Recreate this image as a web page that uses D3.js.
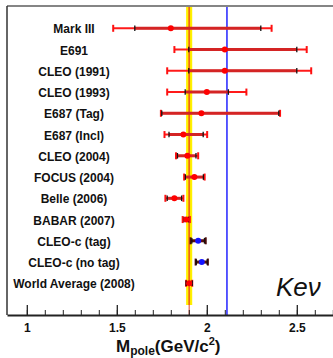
<!DOCTYPE html>
<html>
<head>
<meta charset="utf-8">
<script src="https://cdn.jsdelivr.net/npm/d3@7"></script>
<style>
body { margin: 0; background: #fff; }
svg { display: block; }
</style>
</head>
<body>
<script>
"use strict";

/* Values (GeV) */
var experiments = ["Mark III", "E691", "CLEO (1991)", "CLEO (1993)", "E687 (Tag)", "E687 (Incl)",
	"CLEO (2004)", "FOCUS (2004)", "Belle (2006)", "BABAR (2007)", "CLEO-c (tag)",
	"CLEO-c (no tag)", "World Average (2008)"];
var mpole    = [1.80, 2.10, 2.10, 2.00, 1.97, 1.87, 1.892, 1.931, 1.82, 1.886, 1.952, 1.972, 1.902];
var statLow  = [0.20, 0.20, 0.20, 0.12, 0.22, 0.08, 0.055, 0.05, 0.04, 0.012, 0.035, 0.03, 0.017];
var statHigh = [0.50, 0.40, 0.40, 0.12, 0.43, 0.11, 0.048, 0.05, 0.04, 0.012, 0.035, 0.03, 0.017];
var totLow   = [0.32, 0.28, 0.32, 0.22, 0.225, 0.105, 0.063, 0.057, 0.05, 0.02, 0.042, 0.034, 0.017];
var totHigh  = [0.56, 0.455, 0.48, 0.22, 0.437, 0.132, 0.06, 0.057, 0.05, 0.02, 0.042, 0.034, 0.017];
var worldAvg = 1.902, worldErr = 0.017;	// yellow band
var dstarMass = 2.112;	// blue line
var majorTicks = [1, 1.5, 2, 2.5];

var font = "'Liberation Sans', Arial, Helvetica, sans-serif";
var blueRows = ["CLEO-c (tag)", "CLEO-c (no tag)"];

var width = 333, height = 358;
var frame = {left: 7, top: 6, bottom: 315, right: 333};

var svg = d3.select("body").append("svg")
	.attr("width", width)
	.attr("height", height);

var x = d3.scaleLinear()
	.domain([0.89, 2.70])
	.range([frame.left, 332.8]);
var y = d3.scalePoint()
	.domain(experiments)
	.range([28.3, 283.3]);

var rows = experiments.map(function(name, i) {
	return {name: name, m: mpole[i], sl: statLow[i], sh: statHigh[i], tl: totLow[i], th: totHigh[i],
		blue: blueRows.indexOf(name) >= 0};
});

// yellow world-average band with its central line
svg.append("rect")
	.attr("x", x(worldAvg - worldErr))
	.attr("y", frame.top)
	.attr("width", x(worldAvg + worldErr) - x(worldAvg - worldErr))
	.attr("height", 305 - frame.top)
	.attr("fill", "#fff200");
svg.append("line")
	.attr("x1", x(worldAvg)).attr("x2", x(worldAvg))
	.attr("y1", frame.top).attr("y2", 305)
	.attr("stroke", "#ffb000").attr("stroke-width", 2);
svg.append("line")
	.attr("x1", x(worldAvg)).attr("x2", x(worldAvg))
	.attr("y1", frame.top).attr("y2", frame.bottom)
	.attr("stroke", "#e0402a").attr("stroke-width", 1);

// D*s mass line
svg.append("line")
	.attr("x1", x(dstarMass)).attr("x2", x(dstarMass))
	.attr("y1", frame.top).attr("y2", frame.bottom)
	.attr("stroke", "#0000ff").attr("stroke-width", 1.3);

// frame
svg.append("line")
	.attr("x1", frame.left).attr("x2", frame.right)
	.attr("y1", frame.top).attr("y2", frame.top)
	.attr("stroke", "#858585").attr("stroke-width", 2);
svg.append("line")
	.attr("x1", frame.left).attr("x2", frame.left)
	.attr("y1", frame.top).attr("y2", frame.bottom)
	.attr("stroke", "#333").attr("stroke-width", 1.5);

// error bars
var bar = svg.append("g").selectAll("g")
	.data(rows)
	.enter().append("g");
// total error, thin
bar.append("line")
	.attr("x1", function(d) { return x(d.m - d.tl); })
	.attr("x2", function(d) { return x(d.m + d.th); })
	.attr("y1", function(d) { return y(d.name); })
	.attr("y2", function(d) { return y(d.name); })
	.attr("stroke", function(d) { return d.blue ? "#5a0c0c" : "#ff1a1a"; })
	.attr("stroke-width", 2);
// stat error, thick
bar.append("line")
	.attr("x1", function(d) { return x(d.m - d.sl); })
	.attr("x2", function(d) { return x(d.m + d.sh); })
	.attr("y1", function(d) { return y(d.name); })
	.attr("y2", function(d) { return y(d.name); })
	.attr("stroke", function(d) { return d.blue ? "#5a0c0c" : "#d42424"; })
	.attr("stroke-width", 3);
// red end caps of the total error
bar.selectAll(".cap")
	.data(function(d) { return [d.m - d.tl, d.m + d.th].map(function(v) { return {v: v, d: d}; }); })
	.enter().append("line")
	.attr("class", "cap")
	.attr("x1", function(c) { return x(c.v); })
	.attr("x2", function(c) { return x(c.v); })
	.attr("y1", function(c) { return y(c.d.name) - 3.5; })
	.attr("y2", function(c) { return y(c.d.name) + 3.5; })
	.attr("stroke", function(c) { return c.d.blue ? "#4a0808" : "#ff1010"; })
	.attr("stroke-width", 2);
// black ticks at the end of the stat error
bar.selectAll(".stat")
	.data(function(d) { return [d.m - d.sl, d.m + d.sh].map(function(v) { return {v: v, d: d}; }); })
	.enter().append("line")
	.attr("class", "stat")
	.attr("x1", function(c) { return x(c.v); })
	.attr("x2", function(c) { return x(c.v); })
	.attr("y1", function(c) { return y(c.d.name) - 2.8; })
	.attr("y2", function(c) { return y(c.d.name) + 2.8; })
	.attr("stroke", "#111")
	.attr("stroke-width", 1.3);
// central values
bar.append("circle")
	.attr("cx", function(d) { return x(d.m); })
	.attr("cy", function(d) { return y(d.name); })
	.attr("r", 3)
	.attr("fill", function(d) { return d.blue ? "#1414ff" : "#ff0000"; });

// experiment names
svg.append("g").selectAll("text")
	.data(rows)
	.enter().append("text")
	.attr("x", 74)
	.attr("y", function(d) { return y(d.name) + 5; })
	.attr("text-anchor", "middle")
	.style("font-family", font)
	.style("font-weight", "bold")
	.style("font-size", "12px")
	.attr("fill", "#111")
	.text(function(d) { return d.name; });

// x axis: minor then major ticks, drawn inward
var minor = x.ticks(20).filter(function(v) { return v >= 0.95; });
svg.append("g")
	.attr("transform", "translate(0," + frame.bottom + ")")
	.call(d3.axisBottom(x).tickValues(minor).tickSizeInner(-5).tickSizeOuter(0).tickFormat(""))
	.call(function(g) { g.select(".domain").remove(); })
	.selectAll("line").attr("stroke", "#222").attr("stroke-width", 1);
var xAxis = svg.append("g")
	.attr("transform", "translate(0," + frame.bottom + ")")
	.call(d3.axisBottom(x).tickValues(majorTicks).tickSizeInner(-10).tickSizeOuter(0)
		.tickPadding(8).tickFormat(d3.format("~g")));
xAxis.select(".domain").attr("stroke", "#222").attr("stroke-width", 2);
xAxis.selectAll("line").attr("stroke", "#222").attr("stroke-width", 1.3);
xAxis.selectAll("text")
	.style("font-family", font)
	.style("font-weight", "bold")
	.style("font-size", "12px")
	.attr("fill", "#111");

// axis title M_pole(GeV/c^2)
var title = svg.append("text")
	.attr("x", 116)
	.attr("y", 352)
	.style("font-family", font)
	.style("font-weight", "bold")
	.style("font-size", "17px")
	.attr("fill", "#111");
title.append("tspan").text("M");
title.append("tspan").attr("dy", 3).style("font-size", "12px").text("pole");
title.append("tspan").attr("dy", -3).text("(GeV/c");
title.append("tspan").attr("dy", -7).style("font-size", "11px").text("2");
title.append("tspan").attr("dy", 7).text(")");

// decay mode label
svg.append("text")
	.attr("x", 276)
	.attr("y", 296)
	.style("font-family", font)
	.style("font-style", "italic")
	.style("font-size", "26px")
	.attr("fill", "#111")
	.text("Keν");
</script>
</body>
</html>
